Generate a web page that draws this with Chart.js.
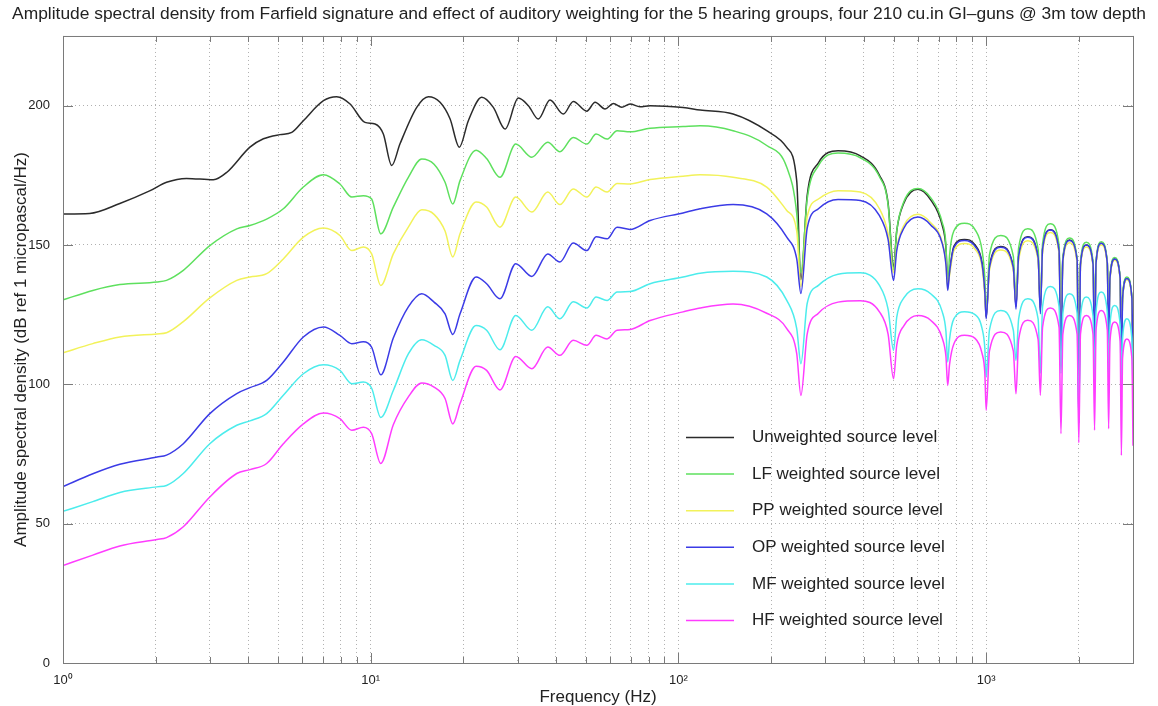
<!DOCTYPE html>
<html>
<head>
<meta charset="utf-8">
<title>Amplitude spectral density - auditory weighting</title>
<script src="https://cdn.jsdelivr.net/npm/chart.js@4.4.1/dist/chart.umd.min.js"></script>
<style>
  html, body { margin: 0; padding: 0; background: #fff; }
  #wrap { width: 1158px; height: 706px; }
</style>
</head>
<body>
<div id="wrap"><canvas id="asdChart" width="1158" height="706"></canvas></div>
<script>
// Frequency points of the unweighted curve (Hz)
const freqUnweighted = [
  1, 1.22, 1.53, 1.92, 2.17, 2.52, 3.08, 3.41, 4.05, 4.48,
  5.07, 5.54, 6.04, 7.02, 7.75, 8.57, 9.58, 10.33, 10.99, 11.7,
  12.45, 14.11, 15.39, 16.8, 18.1, 19.41, 20.76, 22.95, 25.03, 27.33,
  30.18, 32.53, 35.05, 38.25, 42.27, 45.54, 50.35, 53.6, 57.74, 61.43,
  65.4, 69.6, 75, 80.9, 103.5, 117.6, 150.5, 193.6, 224.9, 242.3,
  250, 262, 285, 330, 390, 450, 480,
  500, 512, 540, 600, 660, 720, 740,
  750, 760, 785, 850, 920, 970, 990,
  1000, 1025, 1115, 1225, 1250, 1275, 1365, 1475,
  1500, 1525, 1615, 1725, 1750, 1775, 1865, 1975,
  2000, 2025, 2115, 2225, 2250, 2275, 2365, 2475,
  2500, 2525, 2615, 2725, 2750, 2775, 2865, 2975, 3000
];

// Frequency points shared by the five weighted curves (Hz)
const freqWeighted = [
  1, 1.25, 1.53, 2.02, 2.17, 2.46, 3, 3.67, 4.05, 4.59,
  5.2, 6.04, 7.02, 7.94, 8.68, 9.46, 10.07, 10.78, 11.84, 13.25,
  14.65, 16.06, 17.44, 18.48, 19.51, 22, 23.8, 26.3, 29.6, 33.4,
  37.6, 41.2, 45.5, 50.4, 54, 58.6, 63.2, 69.6, 80.9, 103.5,
  117.6, 150.5, 193.6, 224.9, 242.3,
  250, 262, 285, 330, 390, 450, 480,
  500, 512, 540, 600, 660, 720, 740,
  750, 760, 785, 850, 920, 970, 990,
  1000, 1025, 1115, 1225, 1250, 1275, 1365, 1475,
  1500, 1525, 1615, 1725, 1750, 1775, 1865, 1975,
  2000, 2025, 2115, 2225, 2250, 2275, 2365, 2475,
  2500, 2525, 2615, 2725, 2750, 2775, 2865, 2975, 3000
];

// Levels in dB ref 1 uPa/Hz
const levelUnweighted = [
  161.1, 161.3, 164.9, 169.5, 172.5, 173.9, 173.4, 176.1, 185.1, 188.1,
  189.6, 190.4, 194.6, 201.8, 203.2, 200.6, 194, 193.4, 189.8, 178.5,
  186.3, 199.4, 203.2, 201.2, 195.3, 185.1, 194.6, 203, 199.4, 191.6,
  202.7, 200, 195.2, 202, 197, 201.5, 198, 201.2, 198.8, 200.8,
  199.4, 200.6, 199.6, 200, 199.3, 198.4, 197, 191, 185, 173,
  137.5, 167.7, 179.5, 183.8, 182, 175, 165,
  142, 155, 165, 170, 166.2, 157, 149,
  136, 140.5, 149.5, 152, 150, 143.5, 133.5,
  124, 142.5, 149.5, 142, 128, 146, 153, 145.5,
  126.5, 148.5, 155.5, 148, 115, 145, 151.8, 144.5,
  95, 143, 150, 143, 112, 143.5, 150.6, 143.5,
  116, 138, 145, 138, 105, 131, 138, 131, 105
];

const levelLF = [
  130.3, 133.7, 135.8, 136.7, 137.3, 140.9, 149.8, 155.8, 157, 159.3,
  163, 170.8, 175.2, 171.9, 167.2, 167.7, 166.5, 154, 163.6, 174.3,
  180.9, 179, 172.5, 164.7, 173.1, 184, 181, 174.3, 186.2, 181.5,
  186.9, 183.5, 188.6, 186.2, 189.8, 188, 191, 190.6, 191.9, 192.5,
  192.8, 191, 185.7, 177.9, 161.3,
  140, 166.5, 178.5, 183, 181.3, 174.5, 164.5,
  141, 155, 165.5, 170.3, 167, 158, 150,
  134, 146, 155, 157.8, 155.5, 148, 138,
  126, 146.5, 153.4, 146, 130, 149, 155.8, 148.5,
  129, 150.5, 157.6, 150, 128, 145.5, 152.5, 145,
  110, 144, 151, 144, 125, 144, 151.2, 144,
  126, 138.5, 145.5, 138.5, 118, 131.5, 138.5, 131.5, 115
];

const levelPP = [
  111.3, 114.6, 117, 118.1, 118.5, 122.5, 131, 137.3, 138.5, 139.7,
  145, 152.8, 156.1, 153.4, 148, 149.3, 146.8, 135.5, 146.8, 156.4,
  162.6, 161, 155, 145.7, 154, 165.4, 163.6, 156.4, 167.2, 161.8,
  169, 164.5, 170.1, 167.2, 170.8, 169, 172.1, 171.9, 173.5, 174.7,
  175.2, 174.3, 170.8, 162.4, 155,
  135, 160, 166.5, 169.5, 169, 163, 154,
  140, 149, 157, 161, 158, 151, 143.5,
  135, 139, 148, 150.5, 148.5, 142, 132,
  125, 141, 148.2, 141, 129, 144.5, 151.5, 144.5,
  128, 147.5, 154.5, 147, 120, 144, 150.8, 143.5,
  100, 142.5, 149.3, 142.5, 118, 143, 150, 143,
  120, 137.5, 144.5, 137.5, 110, 130.5, 137.5, 130.5, 110
];

const levelOP = [
  63.3, 67.9, 71.3, 73.9, 74.6, 78.7, 89.5, 96.7, 98.8, 101.4,
  108, 117, 120.6, 117.6, 114.6, 115.3, 113.3, 103.4, 116.6, 127.8,
  132.5, 129.5, 125.3, 117.9, 125.3, 138.5, 136.1, 130.7, 143.3, 138.7,
  146.8, 143.9, 150.7, 148, 153, 152.2, 156.4, 155.6, 158.8, 161.5,
  163, 164.5, 161.2, 152.8, 145,
  132.6, 156, 163, 166.3, 166, 160.5, 152,
  137.3, 148, 156, 160, 157.2, 150.5, 143,
  133.7, 140, 149, 151.6, 149.5, 143, 133,
  123.5, 142, 149.2, 142, 127, 146, 152.8, 145.5,
  125.3, 148.5, 155.4, 148, 108.6, 144.5, 151.6, 144.5,
  86, 143, 150, 143, 107.5, 143.5, 150.6, 143.5,
  112, 138, 145, 138, 95.5, 131, 138, 131, 100
];

const levelMF = [
  54.4, 57.9, 61.2, 63.2, 63.7, 68, 78.7, 85.3, 86.9, 89.5,
  96.1, 103.8, 107, 105, 100.2, 100.8, 98.6, 88.1, 97.8, 110.9,
  116, 114, 110.4, 101.4, 108.6, 121.1, 119.4, 112.4, 124.7, 119.4,
  127.8, 123.5, 129.6, 127.4, 131.3, 130.1, 133.1, 133.3, 136.1, 138.5,
  139.9, 140.6, 138.5, 130.1, 120,
  107.4, 129, 135.5, 139.5, 140, 135.5, 127,
  112.2, 124, 131, 134.3, 132.5, 126, 119,
  108, 116, 123.5, 126, 125, 120, 113,
  102.6, 119.5, 126.5, 119.5, 108.6, 123.5, 130.7, 123.5,
  104, 128, 135.1, 128, 104, 125.5, 132.5, 125.5,
  87, 124.5, 131.3, 124.5, 100, 126, 133.1, 126,
  103, 121.5, 128.3, 121.5, 100, 116.5, 123.5, 116.5, 95
];

const levelHF = [
  35, 38.7, 42, 44.3, 45, 48.9, 59.6, 68, 69.4, 71.6,
  78.7, 85.8, 89.7, 87.7, 83.5, 84.6, 82.3, 71.6, 85.5, 95.5,
  100.5, 99, 94.9, 85.8, 93.1, 106.5, 105, 98, 110, 105.6,
  113.4, 110.4, 115.8, 114, 117.6, 116.3, 119.4, 119.7, 122.9, 126,
  127.4, 128.8, 125.5, 120, 111,
  96, 118, 125.5, 129.5, 130, 126, 118,
  102, 114, 121, 124.7, 123, 116.5, 110,
  99.6, 107, 114.5, 117.6, 116.5, 111, 104,
  90.7, 112, 118.8, 112, 96.6, 116, 123, 116,
  96.1, 120.5, 127.4, 120.5, 82.3, 118, 124.7, 118,
  79, 118, 124.7, 118, 83.5, 119.5, 126.5, 119.5,
  84.1, 115.5, 122.4, 115.5, 74.5, 109.5, 116.3, 109.5, 78
];

const seriesNames = [
  "Unweighted source level",
  "LF weighted source level",
  "PP weighted source level",
  "OP weighted source level",
  "MF weighted source level",
  "HF weighted source level"
];
const seriesColors = ["#2b2b2b", "#5ee05e", "#f2f25a", "#3b3be6", "#4cecec", "#ff3cff"];

// Axis ticks
const xTickValues = [1, 2, 3, 4, 5, 6, 7, 8, 9, 10, 20, 30, 40, 50, 60, 70, 80, 90,
  100, 200, 300, 400, 500, 600, 700, 800, 900, 1000, 2000, 3000];
const xDecades = [1, 10, 100, 1000];
const xDecadeLabels = ["10\u2070", "10\u00b9", "10\u00b2", "10\u00b3"];
const yTickValues = [0, 50, 100, 150, 200];

const fontFamily = '"Liberation Sans", Arial, Helvetica, sans-serif';
const textColor = "#222";

// pair frequencies with levels
function toPoints(freqs, levels) {
  if (freqs.length !== levels.length) console.warn("length mismatch", freqs.length, levels.length);
  return freqs.map((f, i) => ({ x: f, y: levels[i] }));
}

const allLevels = [levelUnweighted, levelLF, levelPP, levelOP, levelMF, levelHF];
const datasets = allLevels.map((levels, i) => ({
  label: seriesNames[i],
  data: toPoints(i === 0 ? freqUnweighted : freqWeighted, levels),
  borderColor: seriesColors[i],
  backgroundColor: seriesColors[i],
  borderWidth: 1.5,
  pointRadius: 0,
  fill: false,
  cubicInterpolationMode: "monotone",
  yAxisID: "y",
  order: allLevels.length - i   // later series on top, like the original plot
}));

// box round the plot with inward tick marks
const framePlugin = {
  id: "frame",
  afterDraw(chart) {
    const { ctx, chartArea: a, scales } = chart;
    ctx.save();
    ctx.strokeStyle = "#7a7a7a";
    ctx.lineWidth = 1;
    ctx.strokeRect(a.left + 0.5, a.top + 0.5, a.right - a.left, a.bottom - a.top);
    ctx.beginPath();
    xTickValues.forEach((v) => {
      const x = Math.round(scales.x.getPixelForValue(v)) + 0.5;
      const len = xDecades.includes(v) ? 10 : 6;
      ctx.moveTo(x, a.bottom); ctx.lineTo(x, a.bottom - len);
      ctx.moveTo(x, a.top); ctx.lineTo(x, a.top + len);
    });
    yTickValues.forEach((v) => {
      const y = Math.round(scales.y.getPixelForValue(v)) + 0.5;
      ctx.moveTo(a.left, y); ctx.lineTo(a.left + 10, y);
      ctx.moveTo(a.right, y); ctx.lineTo(a.right - 10, y);
    });
    ctx.stroke();
    ctx.restore();
  }
};

// legend drawn inside the plot, without a box
const legendPlugin = {
  id: "insideLegend",
  afterDatasetsDraw(chart) {
    const ctx = chart.ctx;
    ctx.save();
    ctx.font = "17px " + fontFamily;
    ctx.textBaseline = "middle";
    ctx.fillStyle = textColor;
    chart.data.datasets.forEach((ds, i) => {
      const y = 437.5 + i * 36.6;
      ctx.strokeStyle = ds.borderColor;
      ctx.lineWidth = 1.5;
      ctx.beginPath();
      ctx.moveTo(686, y);
      ctx.lineTo(734, y);
      ctx.stroke();
      ctx.fillText(ds.label, 752, y);
    });
    ctx.restore();
  }
};

const ctx = document.getElementById("asdChart").getContext("2d");
const asdChart = new Chart(ctx, {
  type: "line",
  data: { datasets: datasets },
  options: {
    responsive: false,
    animation: false,
    devicePixelRatio: 1,
    parsing: false,
    layout: { padding: 0 },
    plugins: {
      legend: { display: false },
      tooltip: { enabled: false },
      title: {
        display: true,
        text: "Amplitude spectral density from Farfield signature and effect of auditory weighting for the 5 hearing groups, four 210 cu.in GI\u2013guns @ 3m tow depth",
        color: textColor,
        font: { family: fontFamily, size: 17.4, weight: "normal" },
        padding: { top: 4, bottom: 11.1 }
      }
    },
    scales: {
      x: {
        type: "logarithmic",
        min: 1,
        max: 3000,
        afterBuildTicks: (scale) => { scale.ticks = xTickValues.map((v) => ({ value: v })); },
        afterFit: (scale) => { scale.height = 43; },
        ticks: {
          autoSkip: false,
          maxRotation: 0,
          padding: 10,
          color: textColor,
          font: { family: fontFamily, size: 13 },
          callback: (value) => {
            const k = xDecades.indexOf(value);
            return k >= 0 ? xDecadeLabels[k] : "";
          }
        },
        grid: { color: "#b0b0b0", lineWidth: 1, drawTicks: false },
        border: { display: false, dash: [1, 3] },
        title: {
          display: true,
          text: "Frequency (Hz)",
          color: textColor,
          font: { family: fontFamily, size: 17 },
          padding: { top: 0, bottom: -1.5 }
        }
      },
      y: {
        type: "linear",
        position: "left",
        min: 0,
        max: 225,
        afterBuildTicks: (scale) => { scale.ticks = yTickValues.map((v) => ({ value: v })); },
        afterFit: (scale) => { scale.width = 63; },
        ticks: {
          padding: 13,
          color: textColor,
          font: { family: fontFamily, size: 13 }
        },
        grid: { color: "#b0b0b0", lineWidth: 1, drawTicks: false },
        border: { display: false, dash: [1, 3] },
        title: {
          display: true,
          text: "Amplitude spectral density (dB ref 1 micropascal/Hz)",
          color: textColor,
          font: { family: fontFamily, size: 17 },
          padding: { top: 11.5, bottom: 0 }
        }
      },
      // empty right-hand strip that keeps the margin beside the plot
      yRight: {
        type: "linear",
        position: "right",
        display: true,
        min: 0,
        max: 225,
        afterFit: (scale) => { scale.width = 25; },
        ticks: { display: false },
        grid: { display: false, drawTicks: false },
        border: { display: false }
      }
    }
  },
  plugins: [framePlugin, legendPlugin]
});
</script>
</body>
</html>
